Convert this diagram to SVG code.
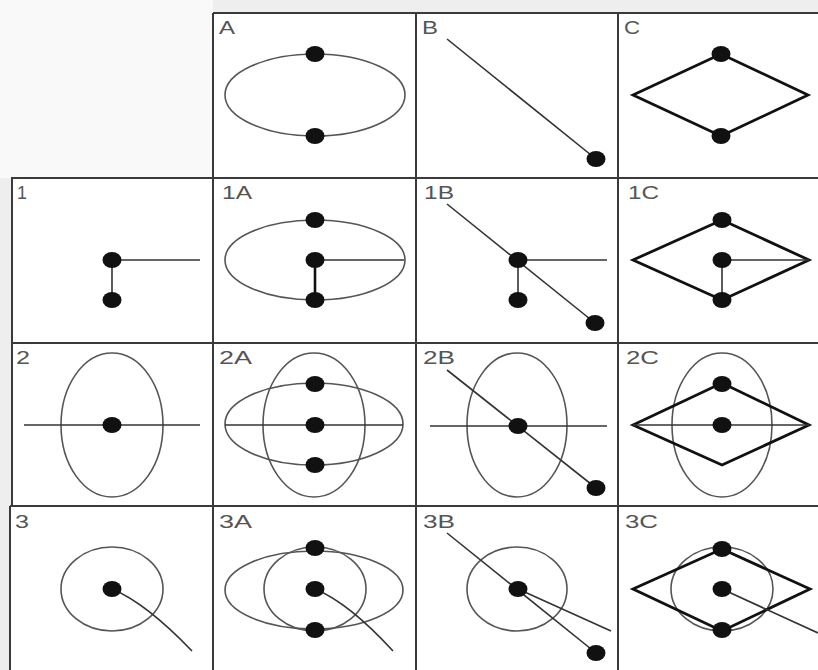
<svg xmlns="http://www.w3.org/2000/svg" width="818" height="670" viewBox="0 0 818 670">
<style>
.grid{stroke:#3a3a3a;stroke-width:2;fill:none}
.ell{fill:none;stroke:#555;stroke-width:1.6}
.ln{stroke:#333;stroke-width:1.6;fill:none}
.lnb{stroke:#111;stroke-width:2.6;fill:none}
.dia{fill:none;stroke:#111;stroke-width:2.8;stroke-linejoin:miter}
.dot{fill:#111}
.lbl{font-family:"Liberation Sans",Arial,sans-serif;font-size:18px;fill:#555}
</style>
<rect x="0" y="0" width="818" height="670" fill="#eeeeee"/>
<rect x="0" y="0" width="213" height="178" fill="#f9f9f9"/>
<rect x="213" y="13" width="605" height="165" fill="#ffffff"/>
<rect x="11" y="178" width="807" height="492" fill="#ffffff"/>

<g id="grid">
<path class="grid" d="M213 13H818M11 178H818M11 343H818M10 506H818"/>
<path class="grid" d="M213 13V670M416 13V670M618 13V670M12 178V506M10 506V670"/>
</g>

<g id="cellA">
<text class="lbl" x="219" y="34" textLength="16" lengthAdjust="spacingAndGlyphs">A</text>
<ellipse class="ell" cx="315" cy="95" rx="90" ry="41"/>
<ellipse class="dot" cx="315" cy="54" rx="9.5" ry="8"/>
<ellipse class="dot" cx="315" cy="136" rx="9.5" ry="8"/>
</g>
<g id="cellB">
<text class="lbl" x="422" y="34" textLength="16" lengthAdjust="spacingAndGlyphs">B</text>
<line class="ln" x1="447" y1="39" x2="596" y2="159"/>
<ellipse class="dot" cx="596" cy="159" rx="9.5" ry="8"/>
</g>
<g id="cellC">
<text class="lbl" x="624" y="34" textLength="16" lengthAdjust="spacingAndGlyphs">C</text>
<polygon class="dia" points="633,95 721,54 808,95 721,136"/>
<ellipse class="dot" cx="721" cy="54" rx="9.5" ry="8"/>
<ellipse class="dot" cx="721" cy="136" rx="9.5" ry="8"/>
</g>

<g id="cell1">
<text class="lbl" x="17" y="199" textLength="10" lengthAdjust="spacingAndGlyphs">1</text>
<line class="ln" x1="112" y1="260" x2="200" y2="260"/>
<line class="ln" x1="112" y1="260" x2="112" y2="300"/>
<ellipse class="dot" cx="112" cy="260" rx="9.5" ry="8"/>
<ellipse class="dot" cx="112" cy="300" rx="9.5" ry="8"/>
</g>
<g id="cell1A">
<text class="lbl" x="222" y="199" textLength="30" lengthAdjust="spacingAndGlyphs">1A</text>
<ellipse class="ell" cx="315" cy="260" rx="90" ry="40"/>
<line class="ln" x1="315" y1="260" x2="404" y2="260"/>
<line class="lnb" x1="315" y1="260" x2="315" y2="300"/>
<ellipse class="dot" cx="315" cy="220" rx="9.5" ry="8"/>
<ellipse class="dot" cx="315" cy="260" rx="9.5" ry="8"/>
<ellipse class="dot" cx="315" cy="300" rx="9.5" ry="8"/>
</g>
<g id="cell1B">
<text class="lbl" x="424" y="199" textLength="30" lengthAdjust="spacingAndGlyphs">1B</text>
<line class="ln" x1="447" y1="204" x2="595" y2="323"/>
<line class="ln" x1="518" y1="260" x2="607" y2="260"/>
<line class="ln" x1="518" y1="260" x2="518" y2="300"/>
<ellipse class="dot" cx="518" cy="260" rx="9.5" ry="8"/>
<ellipse class="dot" cx="518" cy="300" rx="9.5" ry="8"/>
<ellipse class="dot" cx="595" cy="323" rx="9.5" ry="8"/>
</g>
<g id="cell1C">
<text class="lbl" x="628" y="199" textLength="31" lengthAdjust="spacingAndGlyphs">1C</text>
<polygon class="dia" points="633,260 722,220 809,260 722,300"/>
<line class="ln" x1="722" y1="260" x2="809" y2="260"/>
<line class="ln" x1="722" y1="260" x2="722" y2="300"/>
<ellipse class="dot" cx="722" cy="220" rx="9.5" ry="8"/>
<ellipse class="dot" cx="722" cy="260" rx="9.5" ry="8"/>
<ellipse class="dot" cx="722" cy="300" rx="9.5" ry="8"/>
</g>

<g id="cell2">
<text class="lbl" x="16" y="364" textLength="14" lengthAdjust="spacingAndGlyphs">2</text>
<ellipse class="ell" cx="112" cy="425" rx="51" ry="72"/>
<line class="ln" x1="24" y1="425" x2="200" y2="425"/>
<ellipse class="dot" cx="112" cy="425" rx="9.5" ry="8"/>
</g>
<g id="cell2A">
<text class="lbl" x="219" y="364" textLength="33" lengthAdjust="spacingAndGlyphs">2A</text>
<ellipse class="ell" cx="314" cy="425" rx="51" ry="72"/>
<ellipse class="ell" cx="314" cy="424" rx="89" ry="41"/>
<line class="ln" x1="225" y1="425" x2="403" y2="425"/>
<ellipse class="dot" cx="315" cy="384" rx="9.5" ry="8"/>
<ellipse class="dot" cx="315" cy="425" rx="9.5" ry="8"/>
<ellipse class="dot" cx="315" cy="465" rx="9.5" ry="8"/>
</g>
<g id="cell2B">
<text class="lbl" x="423" y="364" textLength="32" lengthAdjust="spacingAndGlyphs">2B</text>
<ellipse class="ell" cx="517" cy="425" rx="50" ry="72"/>
<line class="ln" x1="430" y1="426" x2="607" y2="426"/>
<line class="ln" x1="447" y1="370" x2="596" y2="488"/>
<ellipse class="dot" cx="518" cy="426" rx="9.5" ry="8"/>
<ellipse class="dot" cx="596" cy="488" rx="9.5" ry="8"/>
</g>
<g id="cell2C">
<text class="lbl" x="626" y="364" textLength="33" lengthAdjust="spacingAndGlyphs">2C</text>
<ellipse class="ell" cx="722" cy="425" rx="50" ry="72"/>
<polygon class="dia" points="633,425 722,383 809,425 722,465"/>
<line class="ln" x1="633" y1="425" x2="809" y2="425"/>
<ellipse class="dot" cx="722" cy="384" rx="9.5" ry="8"/>
<ellipse class="dot" cx="722" cy="425" rx="9.5" ry="8"/>
</g>

<g id="cell3">
<text class="lbl" x="15" y="528" textLength="14" lengthAdjust="spacingAndGlyphs">3</text>
<ellipse class="ell" cx="112" cy="589" rx="51" ry="42"/>
<path class="ln" d="M112 589Q146 603 192 651"/>
<ellipse class="dot" cx="112" cy="589" rx="9.5" ry="8"/>
</g>
<g id="cell3A">
<text class="lbl" x="219" y="528" textLength="33" lengthAdjust="spacingAndGlyphs">3A</text>
<ellipse class="ell" cx="315" cy="589" rx="51" ry="42"/>
<ellipse class="ell" cx="314" cy="590" rx="89" ry="39"/>
<path class="ln" d="M315 589Q349 603 393 651"/>
<ellipse class="dot" cx="315" cy="548" rx="9.5" ry="8"/>
<ellipse class="dot" cx="315" cy="589" rx="9.5" ry="8"/>
<ellipse class="dot" cx="315" cy="630" rx="9.5" ry="8"/>
</g>
<g id="cell3B">
<text class="lbl" x="423" y="528" textLength="32" lengthAdjust="spacingAndGlyphs">3B</text>
<ellipse class="ell" cx="517" cy="589" rx="50" ry="42"/>
<line class="ln" x1="447" y1="533" x2="596" y2="653"/>
<line class="ln" x1="518" y1="589" x2="611" y2="631"/>
<ellipse class="dot" cx="518" cy="589" rx="9.5" ry="8"/>
<ellipse class="dot" cx="596" cy="653" rx="9.5" ry="8"/>
</g>
<g id="cell3C">
<text class="lbl" x="625" y="528" textLength="33" lengthAdjust="spacingAndGlyphs">3C</text>
<ellipse class="ell" cx="722" cy="589" rx="51" ry="42"/>
<polygon class="dia" points="633,589 722,549 810,589 722,631"/>
<line class="ln" x1="722" y1="589" x2="818" y2="633"/>
<ellipse class="dot" cx="722" cy="549" rx="9.5" ry="8"/>
<ellipse class="dot" cx="722" cy="589" rx="9.5" ry="8"/>
<ellipse class="dot" cx="722" cy="630" rx="9.5" ry="8"/>
</g>
</svg>
